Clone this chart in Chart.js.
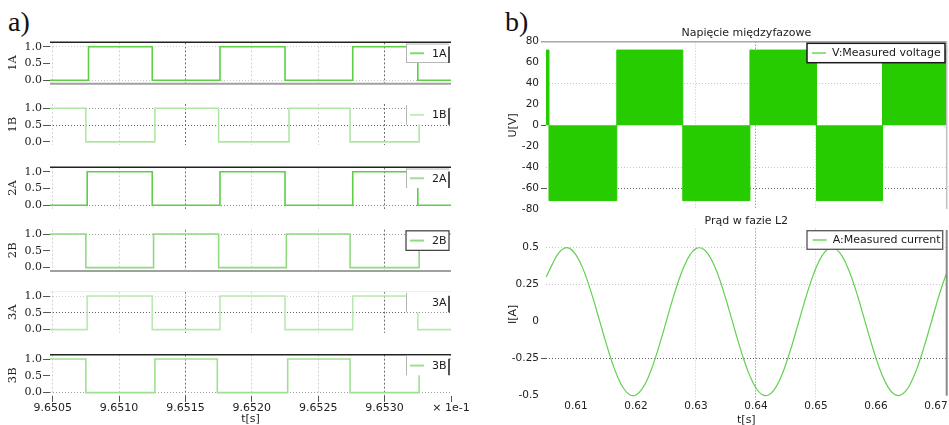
<!DOCTYPE html>
<html><head><meta charset="utf-8">
<script src="https://cdn.jsdelivr.net/npm/chart.js@4.4.1/dist/chart.umd.min.js"></script>
<style>
html,body{margin:0;padding:0;background:#fff;overflow:hidden;width:949px;height:425px;position:relative;}
canvas{position:absolute;}
.lbl{position:absolute;font-family:"Liberation Serif","Times New Roman",serif;font-size:28px;color:#111;line-height:28px;}
</style></head><body>
<div class="lbl" style="left:8px;top:8px">a)</div>
<div class="lbl" style="left:505px;top:8px">b)</div>
<script>
// ---------------- DATA ----------------
// Panel a: gate signals (time in s, x 1e-1 scale as on the axis), level 0/1
const xTicksA = [9.6505, 9.6510, 9.6515, 9.6520, 9.6525, 9.6530, 9.6535];
const yTicksA = [0, 0.5, 1];
const signalNames = ['1A', '1B', '2A', '2B', '3A', '3B'];
const times1A = [9.65048, 9.65077, 9.65125, 9.65176, 9.65225, 9.65276, 9.65325, 9.6535];
const levels1A = [0, 1, 0, 1, 0, 1, 0, 0];
const times1B = [9.65048, 9.65075, 9.65127, 9.65175, 9.65228, 9.65274, 9.65326, 9.6535];
const levels1B = [1, 0, 1, 0, 1, 0, 1, 1];
const times2A = [9.65048, 9.65076, 9.65125, 9.65176, 9.65225, 9.65276, 9.65325, 9.6535];
const levels2A = [0, 1, 0, 1, 0, 1, 0, 0];
const times2B = [9.65048, 9.65075, 9.65126, 9.65175, 9.65226, 9.65274, 9.65326, 9.6535];
const levels2B = [1, 0, 1, 0, 1, 0, 1, 1];
const times3A = [9.65048, 9.65076, 9.65125, 9.65176, 9.65225, 9.65276, 9.65325, 9.6535];
const levels3A = [0, 1, 0, 1, 0, 1, 0, 0];
const times3B = [9.65048, 9.65075, 9.65127, 9.65174, 9.65227, 9.65274, 9.65326, 9.6535];
const levels3B = [1, 0, 1, 0, 1, 0, 1, 1];

// Panel b: line-to-line voltage (PWM envelope) and phase current
const xTicksB = [0.61, 0.62, 0.63, 0.64, 0.65, 0.66, 0.67];
const vTicks = [-80, -60, -40, -20, 0, 20, 40, 60, 80];
const iTicks = [-0.5, -0.25, 0, 0.25, 0.5];
const vTimes = [0.605, 0.6055, 0.6168, 0.6278, 0.6390, 0.6501, 0.6611, 0.6718];
const vLevels = [72, -72, 72, -72, 72, -72, 72, 72];
const iTimes = [0.605,0.606,0.607,0.608,0.609,0.610,0.611,0.612,0.613,0.614,0.615,0.616,0.617,0.618,0.619,0.620,0.621,0.622,0.623,0.624,0.625,0.626,0.627,0.628,0.629,0.630,0.631,0.632,0.633,0.634,0.635,0.636,0.637,0.638,0.639,0.640,0.641,0.642,0.643,0.644,0.645,0.646,0.647,0.648,0.649,0.650,0.651,0.652,0.653,0.654,0.655,0.656,0.657,0.658,0.659,0.660,0.661,0.662,0.663,0.664,0.665,0.666,0.667,0.668,0.669,0.670,0.671,0.672];
const iValues = [0.30,0.384,0.458,0.496,0.494,0.452,0.374,0.266,0.137,-0.003,-0.143,-0.272,-0.379,-0.455,-0.495,-0.495,-0.456,-0.380,-0.273,-0.145,-0.005,0.136,0.265,0.373,0.452,0.494,0.496,0.459,0.385,0.280,0.152,0.012,-0.128,-0.259,-0.368,-0.448,-0.492,-0.497,-0.462,-0.390,-0.286,-0.159,-0.020,0.121,0.252,0.363,0.445,0.491,0.498,0.465,0.394,0.292,0.167,0.028,-0.113,-0.245,-0.358,-0.441,-0.489,-0.498,-0.468,-0.399,-0.299,-0.174,-0.036,0.106,0.238,0.352];

const sigTimes = [times1A, times1B, times2A, times2B, times3A, times3B];
const sigLevels = [levels1A, levels1B, levels2A, levels2B, levels3A, levels3B];

// ---------------- STYLE ----------------
Chart.defaults.font.family = '"DejaVu Sans", Verdana, sans-serif';
Chart.defaults.color = '#222';
const ONE_Y = [46.7, 108.3, 171.7, 234, 296, 359];   // pixel row of level 1.0 per subplot
const UNIT = 33.6;
const lineColors = ['#5ccf45', '#b0e6a4', '#5ccf45', '#8fdb80', '#b8eab0', '#9ee090'];
const sampleColors = ['#80d870', '#c4eebb', '#9ee090', '#8edc80', null, '#9ee090'];
const hGrid = [
  ['#c8c8c8', null, '#cfcfcf'],
  [null, '#606060', '#8a8a8a'],
  ['#8a8a8a', null, null],
  [null, null, '#a0a0a0'],
  [null, '#606060', '#d0d0d0'],
  ['#a0a0a0', null, null]
];
const frames = [
  {lines:[{edge:'top',color:'#222',width:1.5},{edge:'bottom',color:'#a0a0a0',width:2}], lg:{top:true,bottom:true,left:true}},
  {lines:[], lg:{left:true}},
  {lines:[{edge:'top',color:'#222',width:1.5}], lg:{top:true,left:true}},
  {lines:[{edge:'bottom',color:'#a0a0a0',width:2}], lg:{full:true}},
  {lines:[{edge:'top',color:'#ececec',width:1}], lg:{left:true}},
  {lines:[{edge:'top',color:'#222',width:1.5}], lg:{left:true}}
];
const xDarkA = [9.6515, 9.6530];
const near = (a, b) => Math.abs(a - b) < 1e-7;

const frameStyles = {};

const framePlugin = {
  id: 'frameLegend',
  afterDraw(chart) {
    const st = frameStyles[chart.canvas.id];
    if (!st) return;
    const ctx = chart.ctx, a = chart.chartArea;
    ctx.save();
    (st.lines || []).forEach(l => {
      ctx.strokeStyle = l.color; ctx.lineWidth = l.width; ctx.setLineDash([]);
      ctx.beginPath();
      if (l.edge === 'top') { ctx.moveTo(a.left - (l.ext||0), a.top); ctx.lineTo(a.right, a.top); }
      if (l.edge === 'bottom') { ctx.moveTo(a.left, a.bottom); ctx.lineTo(a.right, a.bottom); }
      if (l.edge === 'right') { ctx.moveTo(a.right, a.top + (l.y0||0)); ctx.lineTo(a.right, a.bottom - (l.y1||0)); }
      ctx.stroke();
    });
    const g = st.legend;
    if (g) {
      const x1 = a.right - g.right, x0 = x1 - g.width, y0 = a.top + g.top, y1 = y0 + g.height, ym = (y0 + y1) / 2;
      ctx.fillStyle = '#fff'; ctx.fillRect(x0, y0, g.width, g.height);
      const s = g.sides;
      if (s.full) {
        ctx.strokeStyle = g.frameColor; ctx.lineWidth = g.frameWidth;
        ctx.strokeRect(x0, y0, g.width, g.height);
      } else {
        ctx.strokeStyle = '#b4b4b4'; ctx.lineWidth = 1;
        ctx.beginPath();
        if (s.left) { ctx.moveTo(x0 + 0.5, y0); ctx.lineTo(x0 + 0.5, y1); }
        if (s.top) { ctx.moveTo(x0, y0 + 0.5); ctx.lineTo(x1, y0 + 0.5); }
        if (s.bottom) { ctx.moveTo(x0, y1 - 0.5); ctx.lineTo(x1, y1 - 0.5); }
        ctx.stroke();
        ctx.strokeStyle = '#555'; ctx.lineWidth = 2;
        ctx.beginPath(); ctx.moveTo(x1, y0 + 3); ctx.lineTo(x1, y1); ctx.stroke();
      }
      if (g.sample) {
        ctx.strokeStyle = g.sample; ctx.lineWidth = 2;
        ctx.beginPath(); ctx.moveTo(x0 + g.sx0, ym); ctx.lineTo(x0 + g.sx1, ym); ctx.stroke();
      }
      ctx.fillStyle = '#1a1a1a'; ctx.font = g.font; ctx.textAlign = 'left'; ctx.textBaseline = 'middle';
      ctx.fillText(chart.data.datasets[0].label, x0 + g.tx, ym + 0.5);
    }
    ctx.restore();
  }
};

function addCanvas(id, left, top, w, h) {
  const c = document.createElement('canvas');
  c.id = id; c.width = w; c.height = h;
  c.style.left = left + 'px'; c.style.top = top + 'px';
  c.style.width = w + 'px'; c.style.height = h + 'px';
  document.body.appendChild(c);
  return c;
}

// ---------------- PANEL A ----------------
const X_MIN_A = 9.65048, X_MAX_A = 9.6535;
signalNames.forEach((name, i) => {
  const isBottom = i === signalNames.length - 1;
  const yMin = -0.1, yMax = 1.13;
  const chartTop = ONE_Y[i] - (yMax - 1) * UNIT;
  const areaH = (yMax - yMin) * UNIT;
  const cTop = Math.floor(chartTop) - 10;
  const padTop = chartTop - cTop;
  const xH = isBottom ? 32 : 0;
  const h = Math.ceil(padTop + areaH + xH + (isBottom ? 0 : 10));
  const padBottom = h - padTop - areaH - xH;
  const id = 'sig' + name;
  const c = addCanvas(id, 0, cTop, 475, h);
  frameStyles[id] = {
    lines: frames[i].lines,
    legend: {right: 2, width: 43, top: 1.2, height: 19.5, sides: frames[i].lg, frameColor: '#3a3a3a', frameWidth: 1.2,
             sample: sampleColors[i], sx0: 4, sx1: 18, tx: 26, font: '11px "DejaVu Sans"'}
  };
  new Chart(c, {
    type: 'line',
    data: {datasets: [{
      label: name,
      data: sigTimes[i].map((t, k) => ({x: t, y: sigLevels[i][k]})),
      stepped: 'before', borderColor: lineColors[i], borderWidth: 1.6, pointRadius: 0, fill: false
    }]},
    options: {
      responsive: false, animation: false, devicePixelRatio: 1,
      layout: {padding: {left: 0, right: 24, top: padTop, bottom: padBottom}},
      plugins: {legend: {display: false}, tooltip: {enabled: false}, title: {display: false}},
      scales: {
        x: {
          type: 'linear', min: X_MIN_A, max: X_MAX_A,
          afterBuildTicks: ax => { ax.ticks = xTicksA.map(v => ({value: v})); },
          afterFit: ax => { ax.height = xH; },
          ticks: {display: isBottom, autoSkip: false, maxRotation: 0, padding: 0,
                  font: {size: 11}, color: '#222',
                  callback: v => near(v, 9.6535) ? '× 1e-1' : Number(v).toFixed(4)},
          grid: {drawTicks: isBottom, tickLength: 6, tickColor: '#555', lineWidth: 1,
                 color: ctx => {
                   const v = ctx.tick ? ctx.tick.value : 0;
                   if (near(v, 9.6535)) return 'rgba(0,0,0,0)';
                   return xDarkA.some(d => near(d, v)) ? '#707070' : '#d2d2d2';
                 }},
          border: {display: false, dash: [2, 2]},
          title: {display: isBottom, text: 't[s]', font: {size: 11}, color: '#222', padding: {top: 0, bottom: 1.9}}
        },
        y: {
          min: yMin, max: yMax,
          afterBuildTicks: ax => { ax.ticks = yTicksA.map(v => ({value: v})); },
          afterFit: ax => { ax.width = 50; },
          ticks: {padding: 1, font: {family: '"DejaVu Serif", serif', size: 11}, color: '#222',
                  callback: v => Number(v).toFixed(1)},
          grid: {tickLength: 7, tickColor: '#555', lineWidth: 1,
                 color: ctx => {
                   const k = ctx.tick ? yTicksA.indexOf(ctx.tick.value) : -1;
                   const col = k >= 0 ? hGrid[i][k] : null;
                   return col || 'rgba(0,0,0,0)';
                 }},
          border: {display: false, dash: [1, 2]},
          title: {display: true, text: name, font: {family: '"DejaVu Serif", serif', size: 11.5}, color: '#222',
                  padding: {top: 6.5, bottom: 0}}
        }
      }
    },
    plugins: [framePlugin]
  });
});

// ---------------- PANEL B ----------------
const X_MIN_B = 0.605, X_MAX_B = 0.6718;
const xDarkB = [0.64];
const xLightB = [0.63, 0.65];

function bXAxis(showLabels, h) {
  return {
    type: 'linear', min: X_MIN_B, max: X_MAX_B,
    afterBuildTicks: ax => { ax.ticks = xTicksB.map(v => ({value: v})); },
    afterFit: ax => { ax.height = h; },
    ticks: {display: showLabels, autoSkip: false, maxRotation: 0, padding: 0, font: {size: 10.5}, color: '#222',
            callback: v => Number(v).toFixed(2)},
    grid: {drawTicks: false, lineWidth: 1,
           color: ctx => {
             const v = ctx.tick ? ctx.tick.value : 0;
             if (xDarkB.some(d => near(d, v))) return '#707070';
             if (xLightB.some(d => near(d, v))) return '#c8c8c8';
             return 'rgba(0,0,0,0)';
           }},
    border: {display: false, dash: [1, 2]},
    title: {display: showLabels, text: 't[s]', font: {size: 11}, color: '#222', padding: {top: 0, bottom: 1.4}}
  };
}

// Voltage
const vDark = [-60], vLight = [40, -40];
const vTickDark = [80, 0, -60];
const cv = addCanvas('volt', 470, 0, 479, 220);
frameStyles['volt'] = {
  lines: [{edge: 'top', color: '#a8a8a8', width: 1.5, ext: 5}, {edge: 'right', color: '#c0c0c0', width: 1.5}],
  legend: {right: 1.7, width: 138, top: 1.6, height: 19.4, sides: {full: true}, frameColor: '#1a1a1a', frameWidth: 1.5,
           sample: '#8fe07f', sx0: 5, sx1: 19, tx: 25, font: '11px "DejaVu Sans"'}
};
new Chart(cv, {
  type: 'line',
  data: {datasets: [{
    label: 'V:Measured voltage',
    data: vTimes.map((t, k) => ({x: t, y: vLevels[k]})),
    stepped: 'before', borderColor: '#26cc00', backgroundColor: '#26cc00', borderWidth: 1,
    pointRadius: 0, fill: 'origin'
  }]},
  options: {
    responsive: false, animation: false, devicePixelRatio: 1,
    layout: {padding: {left: 0, right: 2.3, top: 20, bottom: 11}},
    plugins: {legend: {display: false}, tooltip: {enabled: false},
      title: {display: true, text: 'Napięcie międzyfazowe', fullSize: false, font: {size: 11, weight: 'normal'},
              color: '#222', padding: {top: 6.4, bottom: 2.1}}},
    scales: {
      x: bXAxis(false, 0),
      y: {
        min: -80, max: 80,
        afterBuildTicks: ax => { ax.ticks = vTicks.map(v => ({value: v})); },
        afterFit: ax => { ax.width = 76; },
        ticks: {padding: 2, font: {size: 10.5}, color: '#222'},
        grid: {tickLength: 5, lineWidth: 1,
               tickColor: ctx => (ctx.tick && vTickDark.includes(ctx.tick.value)) ? '#555' : 'rgba(0,0,0,0)',
               color: ctx => {
                 const v = ctx.tick ? ctx.tick.value : 0;
                 if (vDark.includes(v)) return '#606060';
                 if (vLight.includes(v)) return '#c8c8c8';
                 return 'rgba(0,0,0,0)';
               }},
        border: {display: false, dash: [1, 2]},
        title: {display: true, text: 'U[V]', font: {size: 11}, color: '#222', padding: {top: 36.4, bottom: 0}}
      }
    }
  },
  plugins: [framePlugin]
});

// Current
const iDark = [-0.25], iLight = [0.5, 0.25];
const ci = addCanvas('curr', 470, 205, 479, 223);
frameStyles['curr'] = {
  lines: [{edge: 'right', color: '#8a8a8a', width: 2, y0: 1.5, y1: 4.4}],
  legend: {right: 4, width: 135.7, top: 2.2, height: 18.6, sides: {full: true}, frameColor: '#555', frameWidth: 1.3,
           sample: '#8fe07f', sx0: 5.7, sx1: 19.7, tx: 25.7, font: '11px "DejaVu Sans"'}
};
new Chart(ci, {
  type: 'line',
  data: {datasets: [{
    label: 'A:Measured current',
    data: iTimes.map((t, k) => ({x: t, y: iValues[k]})),
    borderColor: '#62d050', borderWidth: 1.2, pointRadius: 0, fill: false,
    tension: 0.4
  }]},
  options: {
    responsive: false, animation: false, devicePixelRatio: 1,
    layout: {padding: {left: 0, right: 2.3, top: 4, bottom: 0}},
    plugins: {legend: {display: false}, tooltip: {enabled: false},
      title: {display: true, text: 'Prąd w fazie L2', fullSize: false, font: {size: 11, weight: 'normal'},
              color: '#222', padding: {top: 5.9, bottom: 0.4}}},
    scales: {
      x: bXAxis(true, 27.9),
      y: {
        min: -0.53, max: 0.63,
        afterBuildTicks: ax => { ax.ticks = iTicks.map(v => ({value: v})); },
        afterFit: ax => { ax.width = 76; },
        ticks: {padding: 2, font: {size: 10.5}, color: '#222', callback: v => String(v)},
        grid: {tickLength: 5, lineWidth: 1,
               tickColor: ctx => (ctx.tick && iDark.includes(ctx.tick.value)) ? '#555' : 'rgba(0,0,0,0)',
               color: ctx => {
                 const v = ctx.tick ? ctx.tick.value : 0;
                 if (iDark.includes(v)) return '#606060';
                 if (iLight.includes(v)) return '#c8c8c8';
                 return 'rgba(0,0,0,0)';
               }},
        border: {display: false, dash: [1, 2]},
        title: {display: true, text: 'I[A]', font: {size: 11}, color: '#222', padding: {top: 36.4, bottom: 0}}
      }
    }
  },
  plugins: [framePlugin]
});
</script>
</body></html>
